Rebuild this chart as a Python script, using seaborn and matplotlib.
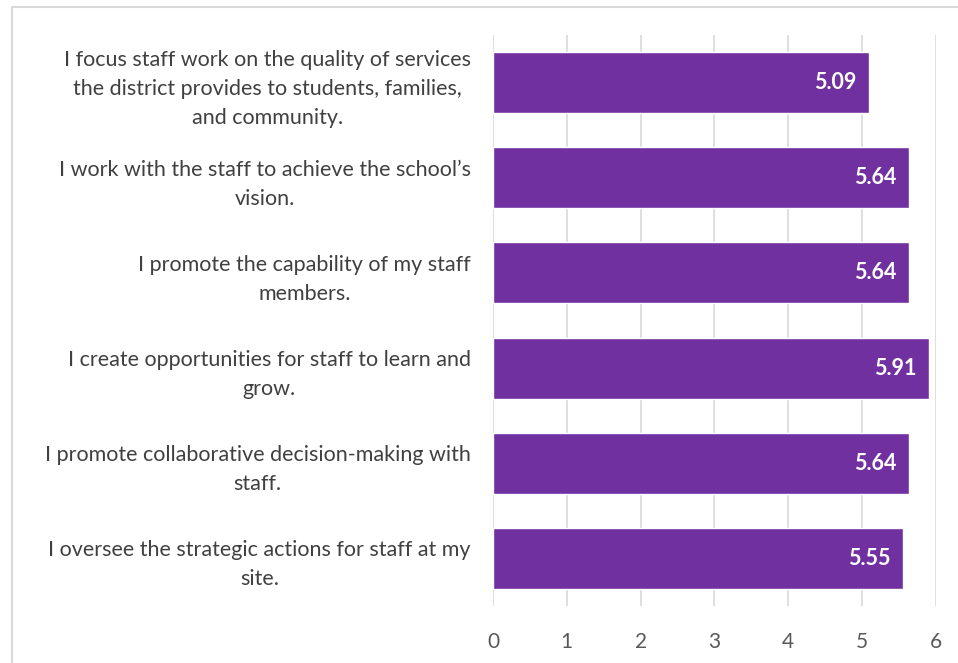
import matplotlib
matplotlib.use("Agg")
import matplotlib.pyplot as plt
from matplotlib.lines import Line2D
import seaborn as sns
import pandas as pd

statements = [
    "I focus staff work on the quality of services\nthe district provides to students, families,\nand community.",
    "I work with the staff to achieve the school\u2019s\nvision.",
    "I promote the capability of my staff\nmembers.",
    "I create opportunities for staff to learn and\ngrow.",
    "I promote collaborative decision-making with\nstaff.",
    "I oversee the strategic actions for staff at my\nsite.",
]
scores = [5.09, 5.64, 5.64, 5.91, 5.64, 5.55]
x_ticks = [0, 1, 2, 3, 4, 5, 6]

sns.set_theme(style="white")
plt.rcParams["font.family"] = ["Lato", "DejaVu Sans"]

df = pd.DataFrame({"statement": statements, "score": scores})

fig = plt.figure(figsize=(9.58, 6.63), dpi=100)
ax = fig.add_axes([0.5146, 0.086, 0.977 - 0.5146, 0.9472 - 0.086])

sns.barplot(data=df, y="statement", x="score", orient="h", color="#7030A0",
            saturation=1, width=0.64, ax=ax, zorder=3)

ax.set_xlim(0, 6)
ax.set_xticks(x_ticks)
ax.set_xticklabels([str(t) for t in x_ticks], fontsize=15, color="#595959")
ax.xaxis.grid(True, color="#D9D9D9", linewidth=1.2, zorder=0)
ax.set_axisbelow(True)
for s in ax.spines.values():
    s.set_visible(False)
ax.tick_params(axis="x", length=0, pad=19)
ax.tick_params(axis="y", length=0, pad=16)
ax.set_xlabel("")
ax.set_ylabel("")
for lbl in ax.get_yticklabels():
    lbl.set_multialignment("center")
    lbl.set_fontsize(15.5)
    lbl.set_color("#404040")
    lbl.set_linespacing(1.55)

for i, v in enumerate(scores):
    ax.text(v - 0.17, i, f"{v:.2f}", ha="right", va="center", color="white",
            fontsize=15.5, fontweight="bold", zorder=4)

# Chart frame (left and top edges)
fig.add_artist(Line2D([11.5 / 958, 11.5 / 958], [0, 1 - 7 / 663], transform=fig.transFigure,
                      color="#D9D9D9", linewidth=1.5))
fig.add_artist(Line2D([11.5 / 958, 1], [1 - 7 / 663, 1 - 7 / 663], transform=fig.transFigure,
                      color="#D9D9D9", linewidth=1.5))

fig.savefig("out.png", dpi=100)
